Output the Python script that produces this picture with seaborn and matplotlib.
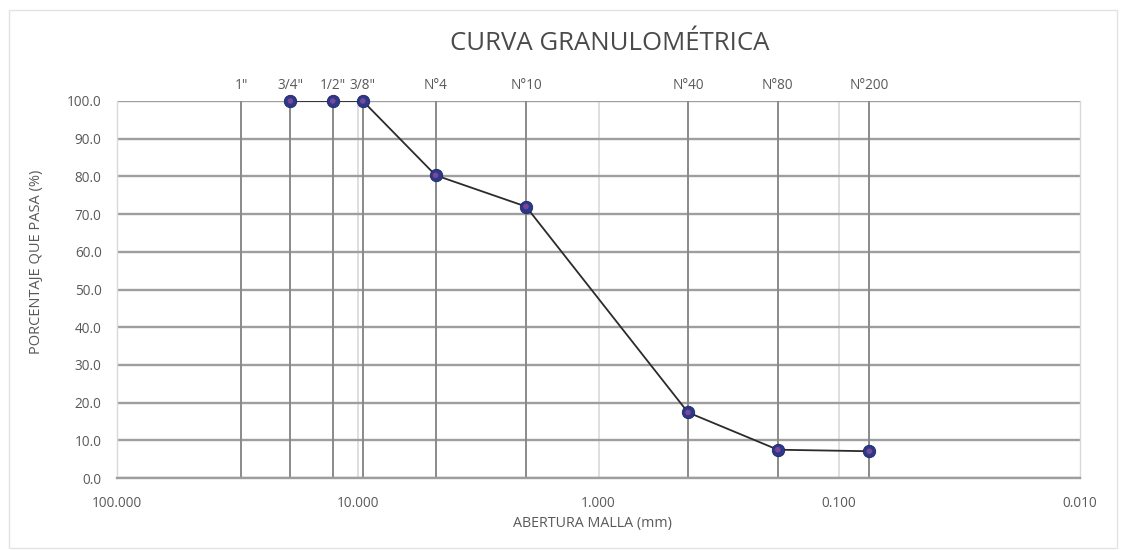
import matplotlib
matplotlib.use("Agg")
import matplotlib.pyplot as plt
import seaborn as sns
import pandas as pd
from matplotlib.patches import Rectangle
from matplotlib.ticker import FixedLocator, NullLocator

# Sieve series: labels, openings (mm) and percentage passing
sieve_labels = ['1"', '3/4"', '1/2"', '3/8"', "N°4", "N°10", "N°40", "N°80", "N°200"]
sieve_mm = [30.5, 19.05, 12.7, 9.525, 4.75, 2.00, 0.425, 0.180, 0.075]

tested_mm = [19.05, 12.7, 9.525, 4.75, 2.00, 0.425, 0.180, 0.075]
percent_passing = [100.0, 100.0, 100.0, 80.3, 72.0, 17.4, 7.5, 7.1]

x_ticks = [100, 10, 1, 0.1, 0.01]
x_tick_labels = ["100.000", "10.000", "1.000", "0.100", "0.010"]
y_ticks = [0, 10, 20, 30, 40, 50, 60, 70, 80, 90, 100]

sns.set_style("white")
plt.rcParams["font.family"] = ["Open Sans", "DejaVu Sans"]

text_color = "#595959"
df = pd.DataFrame({"abertura": tested_mm, "pasa": percent_passing})

fig = plt.figure(figsize=(11.27, 5.5), dpi=100)
ax = fig.add_axes([117 / 1127, 1 - 478 / 550, (1080 - 117) / 1127, (478 - 101) / 550])

# chart frame
fig.patches.append(Rectangle((9 / 1127, 2 / 550), 1108 / 1127, 538 / 550,
                             transform=fig.transFigure, fill=False,
                             edgecolor="#e3e3e3", lw=1.0))

ax.set_xscale("log")
ax.set_xlim(100, 0.01)
ax.set_ylim(0, 100)

# decade gridlines (light) and horizontal gridlines
for xv in x_ticks[1:-1]:
    ax.axvline(xv, color="#dcdcdc", lw=1.3, zorder=0)
ax.hlines(y_ticks, 100, 0.01, color="#9e9e9e", lw=1.7, zorder=1)

# sieve verticals
ax.vlines(sieve_mm, 0, 100, color="#8a8a8a", lw=1.4, zorder=1)

# grading curve
sns.lineplot(data=df, x="abertura", y="pasa", ax=ax, color="#2b2b2b",
             lw=1.3, zorder=3, sort=True, estimator=None)
sns.scatterplot(data=df, x="abertura", y="pasa", ax=ax, s=80, color="#2c3888",
                edgecolor="#1d2668", linewidth=0.6, zorder=4, clip_on=False)
sns.scatterplot(data=df, x="abertura", y="pasa", ax=ax, s=16, color="#8a4a9c",
                edgecolor="none", alpha=0.85, zorder=5, clip_on=False)

ax.xaxis.set_major_locator(FixedLocator(x_ticks))
ax.xaxis.set_minor_locator(NullLocator())
ax.set_xticklabels(x_tick_labels)
ax.set_yticks(y_ticks)
ax.set_yticklabels([f"{v:.1f}" for v in y_ticks])
ax.tick_params(axis="both", length=0, labelsize=9.8, colors=text_color)
ax.tick_params(axis="x", pad=13)
ax.tick_params(axis="y", pad=11)
ax.set_xlabel("")
ax.set_ylabel("")

for side in ["left", "right"]:
    ax.spines[side].set_color("#d9d9d9")
    ax.spines[side].set_linewidth(1.0)
ax.spines["top"].set_visible(False)
ax.spines["bottom"].set_color("#9e9e9e")
ax.spines["bottom"].set_linewidth(1.7)

# sieve names along the top
top = ax.secondary_xaxis("top")
top.xaxis.set_major_locator(FixedLocator(sieve_mm))
top.xaxis.set_minor_locator(NullLocator())
top.set_xticklabels(sieve_labels)
top.tick_params(axis="x", length=0, labelsize=9.8, colors=text_color, pad=6)
top.spines["top"].set_visible(False)

fig.text(610 / 1127, 1 - 43 / 550, "CURVA GRANULOMÉTRICA", ha="center",
         va="center", fontsize=18.5, color="#4a4a4a")
fig.text(37 / 1127, 1 - 262 / 550, "PORCENTAJE QUE PASA (%)", rotation=90,
         ha="center", va="center", fontsize=10.5, color=text_color)
fig.text(592 / 1127, 1 - 524 / 550, "ABERTURA MALLA (mm)", ha="center",
         va="center", fontsize=10.3, color=text_color)

fig.savefig("out.png", dpi=100, facecolor="white")
